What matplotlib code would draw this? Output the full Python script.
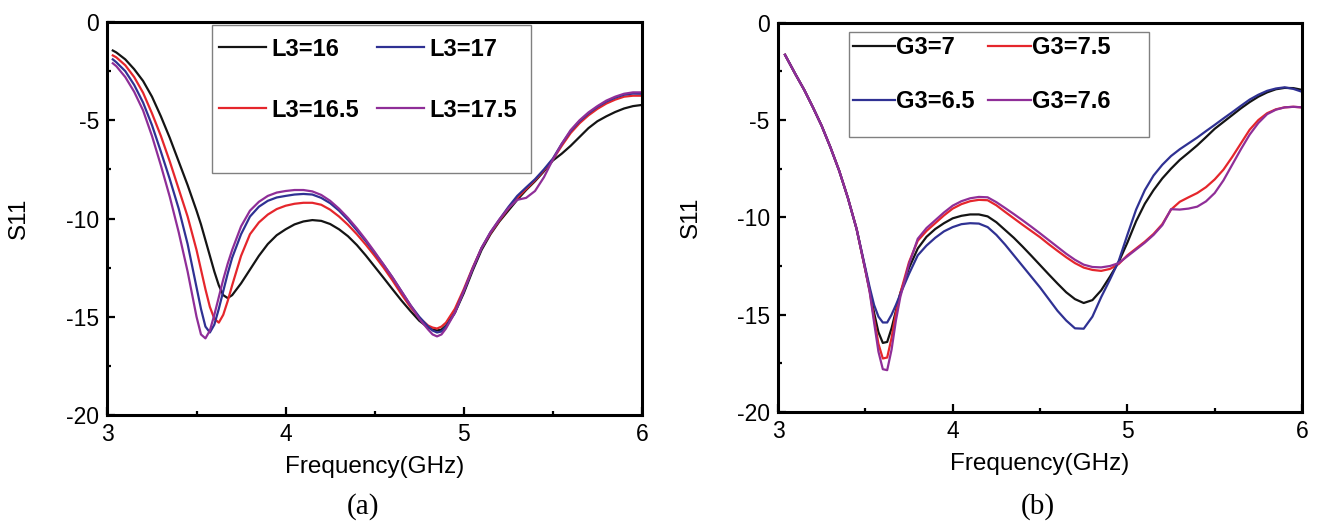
import matplotlib
matplotlib.use("Agg")
import matplotlib.pyplot as plt
from matplotlib.patches import Rectangle
from matplotlib.ticker import MultipleLocator

plt.rcParams['font.family'] = ['Liberation Sans', 'DejaVu Sans']
plt.rcParams['axes.unicode_minus'] = False

# (a) S11 for different L3
freq_a = [3.03, 3.05, 3.1, 3.15, 3.2, 3.25, 3.3, 3.35, 3.4, 3.45,
          3.5, 3.525, 3.55, 3.575, 3.6, 3.625, 3.65, 3.675, 3.7, 3.75,
          3.8, 3.85, 3.9, 3.95, 4.0, 4.05, 4.1, 4.15, 4.2, 4.25,
          4.3, 4.35, 4.4, 4.45, 4.5, 4.55, 4.6, 4.65, 4.7, 4.75,
          4.8, 4.825, 4.85, 4.875, 4.9, 4.95, 5.0, 5.05, 5.1, 5.15,
          5.2, 5.25, 5.3, 5.35, 5.4, 5.45, 5.5, 5.55, 5.6, 5.65,
          5.7, 5.75, 5.8, 5.85, 5.9, 5.95, 6.0]
l3_16 = [-1.45, -1.55, -1.9, -2.4, -3.0, -3.8, -4.8, -5.9, -7.1, -8.3,
         -9.6, -10.3, -11.1, -11.9, -12.7, -13.4, -13.9, -14.05, -13.9, -13.3,
         -12.6, -11.9, -11.3, -10.85, -10.55, -10.3, -10.15, -10.08, -10.12, -10.28,
         -10.55, -10.9, -11.35, -11.88, -12.45, -13.02, -13.6, -14.17, -14.7, -15.2,
         -15.55, -15.65, -15.7, -15.65, -15.45, -14.8, -13.8, -12.65, -11.6, -10.8,
         -10.15, -9.6, -9.05, -8.55, -8.1, -7.6, -7.05, -6.7, -6.3, -5.85,
         -5.4, -5.05, -4.8, -4.58, -4.4, -4.28, -4.22]
l3_165 = [-1.7, -1.8, -2.2, -2.8, -3.6, -4.65, -5.8, -7.1, -8.5, -9.9,
          -11.6, -12.6, -13.6, -14.5, -15.1, -15.3, -14.9, -14.2, -13.4, -11.9,
          -10.8, -10.2, -9.8, -9.52, -9.35, -9.25, -9.2, -9.2, -9.3, -9.55,
          -9.9, -10.32, -10.8, -11.33, -11.9, -12.5, -13.15, -13.85, -14.5, -15.05,
          -15.45, -15.55, -15.6, -15.5, -15.3, -14.6, -13.6, -12.5, -11.5, -10.75,
          -10.1, -9.5, -8.95, -8.5, -8.05, -7.55, -7.0, -6.3, -5.65, -5.15,
          -4.75, -4.42, -4.15, -3.95, -3.8, -3.75, -3.75]
l3_17 = [-1.9, -2.05, -2.5, -3.2, -4.1, -5.25, -6.6, -8.0, -9.5, -11.3,
         -13.5, -14.6, -15.5, -15.8, -15.4, -14.6, -13.7, -12.8, -12.0, -10.8,
         -9.9, -9.4, -9.1, -8.93, -8.85, -8.78, -8.75, -8.78, -8.95, -9.22,
         -9.6, -10.07, -10.6, -11.15, -11.75, -12.35, -13.0, -13.7, -14.4, -15.0,
         -15.5, -15.7, -15.8, -15.75, -15.5, -14.8, -13.7, -12.55, -11.5, -10.7,
         -10.05, -9.42, -8.85, -8.42, -8.0, -7.5, -6.95, -6.2, -5.55, -5.05,
         -4.65, -4.32, -4.05, -3.85, -3.7, -3.64, -3.65]
l3_175 = [-2.1, -2.25, -2.8, -3.55, -4.5, -5.8, -7.3, -8.9, -10.7, -12.7,
          -15.0, -15.9, -16.1, -15.7, -14.9, -14.0, -13.1, -12.3, -11.6, -10.4,
          -9.6, -9.15, -8.85, -8.68, -8.6, -8.55, -8.55, -8.62, -8.8, -9.1,
          -9.5, -9.97, -10.5, -11.08, -11.7, -12.35, -13.0, -13.7, -14.4, -15.1,
          -15.65, -15.9, -16.0, -15.9, -15.6, -14.8, -13.7, -12.55, -11.5, -10.7,
          -10.05, -9.48, -9.05, -8.95, -8.6, -7.9, -7.0, -6.2, -5.5, -5.0,
          -4.6, -4.28, -4.0, -3.8, -3.65, -3.58, -3.58]

# (b) S11 for different G3
freq_b = [3.04, 3.1, 3.15, 3.2, 3.25, 3.3, 3.35, 3.4, 3.45,
          3.5, 3.525, 3.55, 3.575, 3.6, 3.625, 3.65, 3.675, 3.7, 3.75,
          3.8, 3.85, 3.9, 3.95, 4.0, 4.05, 4.1, 4.15, 4.2, 4.25,
          4.3, 4.35, 4.4, 4.45, 4.5, 4.55, 4.6, 4.65, 4.7, 4.75,
          4.8, 4.85, 4.9, 4.95, 5.0, 5.05, 5.1, 5.15, 5.2, 5.25,
          5.3, 5.35, 5.4, 5.45, 5.5, 5.55, 5.6, 5.65, 5.7, 5.75,
          5.8, 5.85, 5.9, 5.95, 6.0]
g3_7 = [-1.65, -2.65, -3.45, -4.35, -5.3, -6.4, -7.6, -9.0, -10.6,
        -12.7, -13.75, -14.9, -15.9, -16.45, -16.4, -15.7, -14.8, -13.9, -12.6,
        -11.6, -11.0, -10.6, -10.3, -10.05, -9.92, -9.85, -9.85, -9.95, -10.25,
        -10.65, -11.05, -11.5, -11.97, -12.45, -12.93, -13.4, -13.85, -14.2, -14.4,
        -14.25, -13.75, -13.05, -12.3, -11.3, -10.2, -9.3, -8.6, -8.0, -7.5,
        -7.05, -6.68, -6.3, -5.88, -5.45, -5.1, -4.75, -4.4, -4.08, -3.8,
        -3.58, -3.42, -3.35, -3.36, -3.45]
g3_65 = [-1.65, -2.65, -3.45, -4.35, -5.3, -6.4, -7.6, -9.0, -10.6,
         -12.6, -13.6, -14.5, -15.1, -15.4, -15.4, -15.0, -14.5, -13.95, -12.9,
         -11.95, -11.45, -11.05, -10.72, -10.5, -10.35, -10.3, -10.32, -10.5, -10.9,
         -11.4, -11.95, -12.5, -13.05, -13.6, -14.2, -14.8, -15.3, -15.7, -15.72,
         -15.1, -14.1, -13.2, -12.25, -10.9, -9.6, -8.6, -7.85, -7.3, -6.85,
         -6.5, -6.2, -5.9, -5.57, -5.25, -4.92, -4.6, -4.27, -3.95, -3.7,
         -3.5, -3.38, -3.32, -3.4, -3.55]
g3_75 = [-1.65, -2.65, -3.45, -4.35, -5.3, -6.4, -7.6, -9.0, -10.6,
         -12.7, -13.8, -15.2, -16.5, -17.25, -17.2, -16.2, -14.9, -13.9, -12.3,
         -11.2, -10.7, -10.3, -9.9, -9.55, -9.32, -9.17, -9.1, -9.12, -9.38,
         -9.72, -10.05, -10.38, -10.7, -11.02, -11.38, -11.72, -12.05, -12.35, -12.58,
         -12.7, -12.75, -12.65, -12.4, -11.95, -11.6, -11.25, -10.85, -10.35, -9.6,
         -9.2, -8.97, -8.75, -8.45, -8.05, -7.55, -6.9, -6.2, -5.5, -5.0,
         -4.65, -4.45, -4.35, -4.32, -4.35]
g3_76 = [-1.65, -2.65, -3.45, -4.35, -5.3, -6.4, -7.6, -9.0, -10.6,
         -12.7, -13.85, -15.4, -16.9, -17.8, -17.85, -16.8, -15.3, -14.1, -12.4,
         -11.1, -10.55, -10.15, -9.75, -9.4, -9.17, -9.02, -8.95, -8.97, -9.22,
         -9.52, -9.83, -10.15, -10.48, -10.82, -11.17, -11.52, -11.87, -12.18, -12.43,
         -12.55, -12.57, -12.5, -12.35, -12.0, -11.65, -11.3, -10.9, -10.4, -9.58,
         -9.6, -9.55, -9.45, -9.18, -8.75, -8.1, -7.3, -6.5, -5.75, -5.15,
         -4.7, -4.47, -4.35, -4.32, -4.35]

BLACK = '#141414'
RED = '#e5262c'
BLUE = '#2f3193'
PURPLE = '#8f2e98'


def style_axes(ax):
    ax.set_xlim(3, 6)
    ax.set_ylim(-20, 0)
    ax.xaxis.set_major_locator(MultipleLocator(1))
    ax.xaxis.set_minor_locator(MultipleLocator(0.5))
    ax.yaxis.set_major_locator(MultipleLocator(5))
    ax.yaxis.set_minor_locator(MultipleLocator(2.5))
    ax.tick_params(which='both', direction='in', top=False, right=False,
                   width=1.6, labelsize=16.5, pad=6)
    ax.tick_params(which='major', length=6)
    ax.tick_params(which='minor', length=3)
    for sp in ax.spines.values():
        sp.set_linewidth(2.2)
    ax.set_xlabel('Frequency(GHz)', fontsize=17.5)
    ax.set_ylabel('S11', fontsize=17.5)
    ax.xaxis.set_label_coords(0.5, -0.105)
    ax.yaxis.set_label_coords(-0.145, 0.5)


fig = plt.figure(figsize=(13.2, 5.23), dpi=100)
ax1 = fig.add_axes([0.0814, 0.2065, 0.4049, 0.7514])
ax2 = fig.add_axes([0.5894, 0.2122, 0.397, 0.7444])

lw = 1.6
h16, = ax1.plot(freq_a, l3_16, color=BLACK, lw=lw)
h165, = ax1.plot(freq_a, l3_165, color=RED, lw=lw)
h17, = ax1.plot(freq_a, l3_17, color=BLUE, lw=lw)
h175, = ax1.plot(freq_a, l3_175, color=PURPLE, lw=lw)
style_axes(ax1)
ax1.add_patch(Rectangle((0.1955, 0.6158), 0.5968, 0.3766, transform=ax1.transAxes,
                        facecolor='white', edgecolor='#808080', lw=1.0, zorder=1))
ax1.legend([h16, h165, h17, h175], ['L3=16', 'L3=16.5', 'L3=17', 'L3=17.5'],
           ncol=2, loc='upper left', bbox_to_anchor=(0.2086, 0.960),
           frameon=False, borderpad=0, borderaxespad=0,
           handlelength=1.99, handletextpad=0.21, columnspacing=0.8,
           labelspacing=1.6, prop={'weight': 'bold', 'size': 17})

g7, = ax2.plot(freq_b, g3_7, color=BLACK, lw=lw)
g75, = ax2.plot(freq_b, g3_75, color=RED, lw=lw)
g65, = ax2.plot(freq_b, g3_65, color=BLUE, lw=lw)
g76, = ax2.plot(freq_b, g3_76, color=PURPLE, lw=lw)
style_axes(ax2)
ax2.add_patch(Rectangle((0.1355, 0.7072), 0.5725, 0.2697, transform=ax2.transAxes,
                        facecolor='white', edgecolor='#808080', lw=1.0, zorder=1))
ax2.legend([g7, g65, g75, g76], ['G3=7', 'G3=6.5', 'G3=7.5', 'G3=7.6'],
           ncol=2, loc='upper left', bbox_to_anchor=(0.1422, 0.966),
           frameon=False, borderpad=0, borderaxespad=0,
           handlelength=1.79, handletextpad=0.04, columnspacing=0.6,
           labelspacing=1.33, prop={'weight': 'bold', 'size': 17})

fig.text(363 / 1320, 1 - 507 / 523, '(a)', family=['Liberation Serif', 'DejaVu Serif'],
         fontsize=21, ha='center', va='center')
fig.text(1038 / 1320, 1 - 507 / 523, '(b)', family=['Liberation Serif', 'DejaVu Serif'],
         fontsize=21, ha='center', va='center')

fig.savefig('out.png', dpi=100)
